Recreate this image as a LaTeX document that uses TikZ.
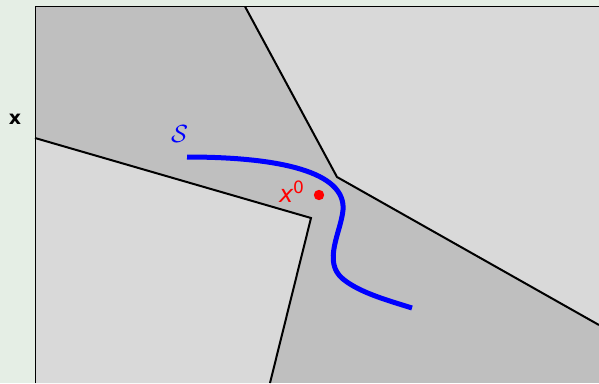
\documentclass[tikz,border=0pt]{standalone}
\usepackage{fontspec}
\newfontfamily\dvsans{DejaVu Sans}
\newfontfamily\dvsansbold{DejaVu Sans Bold}
\definecolor{bgside}{RGB}{229,238,229}
\definecolor{darkreg}{RGB}{191,191,191}
\definecolor{lightreg}{RGB}{217,217,217}
\tikzset{
  boundary/.style={black, line width=2pt, line join=miter},
  curveS/.style={blue, line width=5pt},
  lbl/.style={inner sep=0pt, outer sep=0pt}
}
\begin{document}
\begin{tikzpicture}[x=1pt, y=-1pt]
\useasboundingbox (0,0) rectangle (599,383);
\fill[bgside] (0,0) rectangle (599,383);
% axes area
\fill[darkreg] (35,6.5) rectangle (599,383);
\fill[lightreg] (35,138) -- (311,218) -- (270,383) -- (35,383) -- cycle;
\fill[lightreg] (245,6.5) -- (337,177) -- (599,325) -- (599,6.5) -- cycle;
\draw[boundary] (35,138) -- (311,218) -- (270,383);
\draw[boundary] (245,6.5) -- (337,177) -- (599,325);
\draw[black, line width=1.4pt] (35.5,383) -- (35.5,6.5) -- (599,6.5);
% curve S
\draw[curveS] (187,157) .. controls (280,157) and (346,172) .. (343,210)
  .. controls (341,232) and (322,262) .. (343,279)
  .. controls (360,293) and (390,301) .. (412,308);
% point x0
\fill[red] (319,195) circle (5.2pt);
\node[lbl, anchor=base west, text=red, font=\dvsans\fontsize{24}{24}\selectfont] (xzero) at (279,202) {\itshape x\raisebox{9pt}{\upshape\fontsize{17}{17}\selectfont 0}};
\node[lbl, anchor=base west, text=blue, font=\fontsize{25}{25}\selectfont] (slabel) at (171,142) {$\mathcal{S}$};
\node[lbl, anchor=base, font=\dvsansbold\fontsize{19}{19}\selectfont] (xlabel) at (15,124.5) {x};
\end{tikzpicture}
\end{document}
